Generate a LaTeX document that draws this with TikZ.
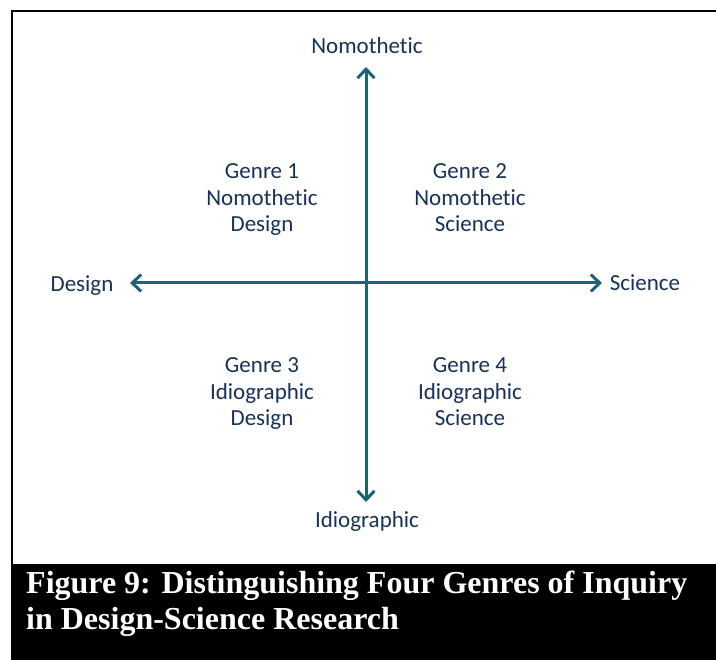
\documentclass[tikz,border=0pt]{standalone}
\usepackage{fontspec}
\setmainfont[Ligatures=NoCommon]{Carlito}
\newfontfamily\capfont{Liberation Serif}
\usetikzlibrary{arrows.meta}
\definecolor{axiscol}{RGB}{30,98,118}
\definecolor{txtcol}{RGB}{24,50,88}
\begin{document}
\begin{tikzpicture}[x=1pt,y=-1pt,
  lbl/.style={text=txtcol,font=\fontsize{23}{26.7}\selectfont,align=center,inner sep=0pt,anchor=base},
  axis/.style={draw=axiscol,line width=3pt,-{Straight Barb[length=9pt,width=17pt,line width=3pt]}}]
\useasboundingbox (0,0) rectangle (716,660);
\fill[white] (0,0) rectangle (716,660);
% frame
\draw[black,line width=2.6pt] (12,660) -- (12,11) -- (720,11);
\fill[black] (10.7,564) rectangle (716,660);
% centre and axis ends
\coordinate (c) at (366,283);
\coordinate (top) at (366,67);
\coordinate (bot) at (366,502);
\coordinate (lft) at (130,283);
\coordinate (rgt) at (602,283);
\draw[axis] (c) -- (top);
\draw[axis] (c) -- (bot);
\draw[axis] (c) -- (lft);
\draw[axis] (c) -- (rgt);
% axis labels (base anchors at baselines)
\node[lbl] (nomo) at (367,54) {Nomothetic};
\node[lbl] (idio) at (367,528) {Idiographic};
\node[lbl] (des) at (82,292) {Design};
\node[lbl] (sci) at (645,291) {Science};
% quadrants (base = last line baseline)
\node[lbl] (g1) at (262,232) {Genre 1\\Nomothetic\\Design};
\node[lbl] (g2) at (470,232) {Genre 2\\Nomothetic\\Science};
\node[lbl] (g3) at (262,426) {Genre 3\\Idiographic\\Design};
\node[lbl] (g4) at (470,426) {Genre 4\\Idiographic\\Science};
% caption
\node[anchor=base west,text=white,font=\capfont\bfseries\fontsize{32}{36}\selectfont,align=left,inner sep=0pt] (cap) at (26,630)
  {Figure 9: Distinguishing Four Genres of Inquiry\\in Design-Science Research};
\end{tikzpicture}
\end{document}
